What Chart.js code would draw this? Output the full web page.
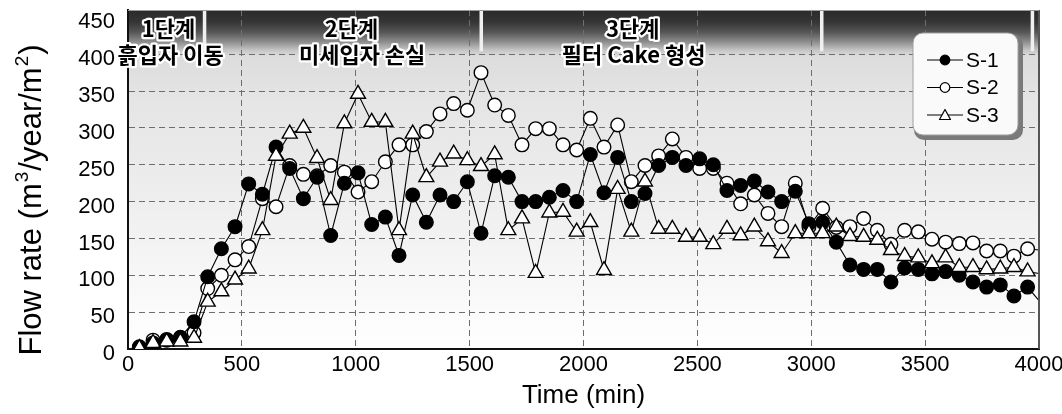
<!DOCTYPE html>
<html><head><meta charset="utf-8">
<script src="https://cdn.jsdelivr.net/npm/chart.js@4.4.0/dist/chart.umd.min.js"></script>
<style>html,body{margin:0;padding:0;background:#fff;}#wrap{width:1062px;height:414px;}</style>
</head><body><div id="wrap"><canvas id="c" width="1062" height="414"></canvas></div>
<script>
const times = [50,110,170,230,290,350,410,470,530,590,650,710,770,830,890,950,1010,1070,1130,1190,1250,1310,1370,1430,1490,1550,1610,1670,1730,1790,1850,1910,1970,2030,2090,2150,2210,2270,2330,2390,2450,2510,2570,2630,2690,2750,2810,2870,2930,2990,3050,3110,3170,3230,3290,3350,3410,3470,3530,3590,3650,3710,3770,3830,3890,3950,4010];
const s1 = [2,8,12,16,37,98,136,166,224,210,274,245,204,233,154,225,239,169,179,127,209,172,209,200,227,157,235,233,200,200,206,215,200,264,212,260,200,211,249,260,249,258,250,215,222,228,213,200,214,170,172,145,114,108,108,91,110,108,102,105,100,91,84,87,72,84,62];
const s2 = [3,12,13,15,22,82,100,121,139,204,193,249,237,235,249,240,213,227,254,277,277,295,319,333,324,375,331,317,277,299,299,277,270,313,274,304,227,249,262,285,260,245,245,225,197,209,184,166,225,166,191,165,166,177,161,142,161,159,149,145,143,144,133,133,126,136,134];
const s3 = [1,8,10,10,15,64,78,94,109,161,262,292,300,259,202,306,346,308,308,161,292,233,254,265,256,248,264,161,177,103,185,186,159,172,107,217,159,227,163,163,152,152,142,163,154,166,146,130,157,157,157,166,153,152,148,134,126,124,116,124,111,111,108,109,111,105,102];
const seriesNames = ['S-1','S-2','S-3'];
const xTickValues = [0,500,1000,1500,2000,2500,3000,3500,4000];
const yTickValues = [0,50,100,150,200,250,300,350,400,450];
const stageBounds = [335,1550,3045,3970];
const stageTitles = ['1단계','2단계','3단계'];
const stageTitleAt = [178,981,2216];
const stageDescs = ['흙입자 이동','미세입자 손실','필터 Cake 형성'];
const stageDescAt = [187,1028,2220];
const xTitle = 'Time (min)';
const yTitleParts = [['Flow rate (m',0],['3',1],['/year/m',0],['2',1],[')',0]];

const LAT = "'Liberation Sans', Arial, sans-serif";
const KR = "'Noto Sans CJK KR', 'Noto Sans', sans-serif";
const pts = vals => times.map((t,i)=>({x:t,y:vals[i]}));
const rad = r => ctx => (ctx.raw && ctx.raw.x > 4000) ? 0 : r;

const fills = ['#000','#fff','#fff'];
const styles = ['circle','circle','triangle'];
const radii = [6.8,6.8,8.6];
const orders = [1,2,0];
const datasets = [s1,s2,s3].map((v,i)=>({
  label: seriesNames[i], data: pts(v), borderColor:'#000', borderWidth:1.1,
  pointStyle: styles[i], pointRadius: rad(radii[i]), pointHoverRadius: rad(radii[i]),
  pointBackgroundColor: fills[i], pointBorderColor:'#000', pointBorderWidth:1.4,
  order: orders[i], tension:0, fill:false
}));

const decor = {
  id:'decor',
  beforeDraw(chart){
    const {ctx, chartArea:a, scales:{x,y}} = chart;
    ctx.save();
    ctx.fillStyle='#fff'; ctx.fillRect(0,0,chart.width,chart.height);
    const h = a.bottom-a.top;
    const g = ctx.createLinearGradient(0,a.top,0,a.bottom);
    const s = py => Math.min(1,Math.max(0,(py-a.top)/h));
    g.addColorStop(0,'#2a2a2a');
    g.addColorStop(s(a.top+12),'#353535');
    g.addColorStop(s(a.top+22),'#555555');
    g.addColorStop(s(a.top+32),'#8e8e8e');
    g.addColorStop(s(a.top+40),'#c4c4c4');
    g.addColorStop(s(a.top+46),'#dcdcdc');
    g.addColorStop(s(a.top+90),'#e5e5e5');
    g.addColorStop(s(a.top+190),'#eeeeee');
    g.addColorStop(1,'#ffffff');
    ctx.fillStyle=g; ctx.fillRect(a.left,a.top,a.right-a.left,h);
    const bandEnd = y.getPixelForValue(400);
    ctx.fillStyle='#f0f0f0';
    stageBounds.forEach(t=>{const px=x.getPixelForValue(t); ctx.fillRect(px-1.5,a.top,3.5,bandEnd-3-a.top);});
    ctx.restore();
  },
  afterDraw(chart){
    const {ctx, chartArea:a, scales:{x,y}} = chart;
    ctx.save();
    ctx.strokeStyle='#555'; ctx.lineWidth=2;
    ctx.beginPath(); ctx.moveTo(a.right,a.top); ctx.lineTo(a.right,a.bottom); ctx.stroke();
    ctx.strokeStyle='#999'; ctx.lineWidth=1;
    ctx.beginPath(); ctx.moveTo(a.left,a.top+0.5); ctx.lineTo(a.right,a.top+0.5); ctx.stroke();
    // stage labels
    ctx.font='bold 22px '+KR; ctx.textAlign='center'; ctx.textBaseline='middle';
    ctx.lineJoin='round'; ctx.lineWidth=4.5; ctx.strokeStyle='#fff'; ctx.fillStyle='#000';
    const txt=(s,px,py)=>{ctx.strokeText(s,px,py); ctx.fillText(s,px,py);};
    stageTitles.forEach((s,i)=>txt(s,x.getPixelForValue(stageTitleAt[i]),a.top+19));
    stageDescs.forEach((s,i)=>txt(s,x.getPixelForValue(stageDescAt[i]),a.top+45));
    // legend
    const L=913,T=33,W=107,H=104,R=10;
    const rr=(x0,y0,w,hh,r)=>{ctx.beginPath();ctx.moveTo(x0+r,y0);ctx.arcTo(x0+w,y0,x0+w,y0+hh,r);ctx.arcTo(x0+w,y0+hh,x0,y0+hh,r);ctx.arcTo(x0,y0+hh,x0,y0,r);ctx.arcTo(x0,y0,x0+w,y0,r);ctx.closePath();};
    ctx.fillStyle='#7a7a7a'; rr(L+1,T+1,W+2,H+2,R); ctx.fill();
    ctx.fillStyle='#fafafa'; rr(L,T,W-2,H-2,R); ctx.fill();
    ctx.strokeStyle='#a0a0a0'; ctx.lineWidth=1; rr(L,T,W-2,H-2,R); ctx.stroke();
    ctx.font='21px '+LAT; ctx.textAlign='left'; ctx.textBaseline='middle';
    chart.data.datasets.forEach((ds,i)=>{
      const yy=T+27+i*27.5;
      ctx.strokeStyle='#000'; ctx.lineWidth=1.2;
      ctx.beginPath(); ctx.moveTo(L+14,yy); ctx.lineTo(L+50,yy); ctx.stroke();
      ctx.fillStyle=ds.pointBackgroundColor;
      if(ds.pointStyle==='triangle'){
        ctx.beginPath(); ctx.moveTo(L+32,yy-5.5); ctx.lineTo(L+37.5,yy+4.5); ctx.lineTo(L+26.5,yy+4.5); ctx.closePath();
      } else { ctx.beginPath(); ctx.arc(L+32,yy,4.8,0,Math.PI*2); }
      ctx.fill(); ctx.stroke();
      ctx.fillStyle='#000'; ctx.fillText(ds.label,L+53,yy+1);
    });
    // y title with superscripts
    const big='31px '+LAT, small='19px '+LAT;
    let total=0;
    yTitleParts.forEach(([t,sup])=>{ctx.font=sup?small:big; total+=ctx.measureText(t).width+(sup?2:0);});
    ctx.translate(41,200); ctx.rotate(-Math.PI/2);
    ctx.textAlign='left'; ctx.textBaseline='alphabetic'; ctx.fillStyle='#000';
    let cx=-total/2;
    yTitleParts.forEach(([t,sup])=>{ctx.font=sup?small:big; const w=ctx.measureText(t).width; ctx.fillText(t,cx+(sup?1:0),sup?-13:0); cx+=w+(sup?2:0);});
    ctx.restore();
  }
};

const gridCol = (lim) => c => (c.tick && lim.includes(c.tick.value)) ? 'rgba(0,0,0,0)' : '#6e6e6e';

new Chart(document.getElementById('c'), {
  type:'line',
  data:{datasets},
  options:{
    responsive:false, animation:false, events:[],
    layout:{padding:{top:9,right:23,left:0,bottom:0}},
    plugins:{legend:{display:false}, tooltip:{enabled:false}},
    scales:{
      x:{type:'linear', min:0, max:4000,
        afterBuildTicks: s => { s.ticks = xTickValues.map(v=>({value:v})); },
        afterFit: s => { s.height = 65; s.paddingLeft = 0; s.paddingRight = 0; },
        ticks:{autoSkip:false, maxRotation:0, padding:3, color:'#000', font:{family:LAT,size:22}, callback: v => String(v)},
        grid:{drawTicks:false, color:gridCol([0,4000]), lineWidth:1},
        border:{display:true, color:'#111', width:2, dash:[6,4]},
        title:{display:true, text:xTitle, color:'#000', font:{family:LAT,size:26}, padding:{top:0,bottom:3}}
      },
      y:{type:'linear', min:0, max:460,
        afterBuildTicks: s => { s.ticks = yTickValues.map(v=>({value:v})); },
        afterFit: s => { s.width = 128; s.paddingTop = 0; s.paddingBottom = 0; },
        ticks:{padding:13, labelOffset:5, color:'#000', font:{family:LAT,size:22}, callback: v => String(v)},
        grid:{drawTicks:false, color:gridCol([0,450]), lineWidth:1},
        border:{display:true, color:'#111', width:2, dash:[6,4]}
      }
    }
  },
  plugins:[decor]
});
</script></body></html>
